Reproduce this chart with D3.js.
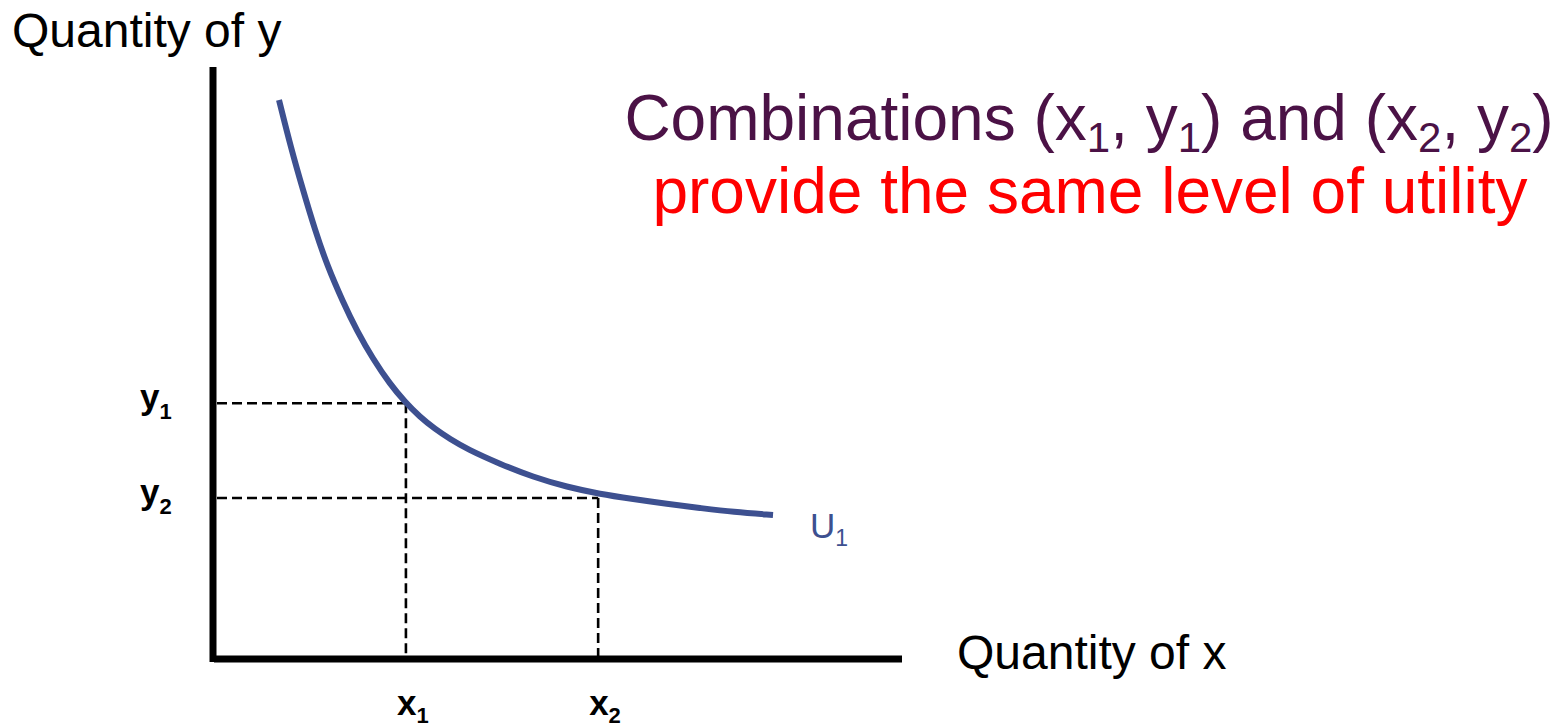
<!DOCTYPE html>
<html>
<head>
<meta charset="utf-8">
<script src="https://cdn.jsdelivr.net/npm/d3@7"></script>
<style>
  html, body { margin: 0; padding: 0; background: #fff; }
  svg { display: block; font-family: "Liberation Sans", Arial, sans-serif; }
</style>
</head>
<body>
<svg id="chart" width="1562" height="725"></svg>
<script>
// Indifference curve U1 (quantity of x, quantity of y)
const curveX = [9.58, 11.32, 13.06, 14.80, 16.55, 18.87, 20.90, 23.22, 25.69, 27.87, 30.04, 32.22, 34.40, 36.86, 41.65, 46.44, 51.38, 56.17, 60.96, 65.89, 70.68, 75.47, 81.28];
const curveY = [94.43, 86.32, 79.22, 72.47, 66.55, 60.30, 55.41, 50.68, 46.45, 43.41, 40.88, 38.85, 37.16, 35.47, 32.94, 30.74, 29.05, 27.87, 27.03, 26.18, 25.51, 24.83, 24.32];

// The two bundles on the curve
const bundleX = [28.0, 55.9];
const bundleY = [43.2, 27.2];
const bundleXLabels = ["x", "x"];
const bundleYLabels = ["y", "y"];
const bundleSubs = ["1", "2"];

const axisMax = 100;

const svg = d3.select("#chart");

const x = d3.scaleLinear().domain([0, axisMax]).range([213, 902]);
const y = d3.scaleLinear().domain([0, axisMax]).range([659, 67]);

// Dashed guide lines from each bundle to both axes
const guides = svg.append("g")
  .attr("fill", "none")
  .attr("stroke", "#000")
  .attr("stroke-width", 2.6)
  .attr("stroke-dasharray", "10,5");

bundleX.forEach((bx, i) => {
  const by = bundleY[i];
  guides.append("line")
    .attr("x1", x(0) + 4).attr("y1", y(by))
    .attr("x2", x(bx)).attr("y2", y(by));
  guides.append("line")
    .attr("x1", x(bx)).attr("y1", y(by))
    .attr("x2", x(bx)).attr("y2", y(0) - 3);
});

// Axes
svg.append("line")
  .attr("x1", x(0)).attr("y1", y(axisMax))
  .attr("x2", x(0)).attr("y2", y(0) + 3)
  .attr("stroke", "#000").attr("stroke-width", 7);
svg.append("line")
  .attr("x1", x(0) + 1).attr("y1", y(0))
  .attr("x2", x(axisMax)).attr("y2", y(0))
  .attr("stroke", "#000").attr("stroke-width", 7);

// Indifference curve
const pts = curveX.map((v, i) => [v, curveY[i]]);
const line = d3.line()
  .x(d => x(d[0]))
  .y(d => y(d[1]))
  .curve(d3.curveBasis);

svg.append("path")
  .datum(pts)
  .attr("d", line)
  .attr("fill", "none")
  .attr("stroke", "#3d5090")
  .attr("stroke-width", 6);

// Curve label U1
const last = pts[pts.length - 1];
const uLab = svg.append("text")
  .attr("x", x(last[0]) + 37)
  .attr("y", y(last[1]) + 23)
  .attr("fill", "#3d5090")
  .attr("font-size", 35);
uLab.append("tspan").text("U");
uLab.append("tspan").attr("font-size", 23).attr("dy", 8).text("1");

// Bundle labels on the axes
bundleY.forEach((by, i) => {
  const t = svg.append("text")
    .attr("x", 140)
    .attr("y", y(by) + 6)
    .attr("font-weight", "bold")
    .attr("font-size", 35);
  t.append("tspan").text(bundleYLabels[i]);
  t.append("tspan").attr("font-size", 22).attr("dy", 10).text(bundleSubs[i]);
});

bundleX.forEach((bx, i) => {
  const t = svg.append("text")
    .attr("x", x(bx) - 9)
    .attr("y", 715)
    .attr("font-weight", "bold")
    .attr("font-size", 35);
  t.append("tspan").text(bundleXLabels[i]);
  t.append("tspan").attr("font-size", 22).attr("dy", 8).text(bundleSubs[i]);
});

// Axis titles
svg.append("text")
  .attr("x", 12).attr("y", 47)
  .attr("font-size", 48)
  .attr("fill", "#000")
  .text("Quantity of y");

svg.append("text")
  .attr("x", 957).attr("y", 669)
  .attr("font-size", 48)
  .attr("fill", "#000")
  .text("Quantity of x");

// Headline
const head1 = svg.append("text")
  .attr("x", 1089).attr("y", 140)
  .attr("text-anchor", "middle")
  .attr("font-size", 64)
  .attr("fill", "#4b1246");
[["Combinations (x", 0], ["1", 1], [", y", 0], ["1", 1], [") and (x", 0], ["2", 1], [", y", 0], ["2", 1], [")", 0]]
  .forEach(([s, sub], i, arr) => {
    const prevSub = i > 0 ? arr[i - 1][1] : 0;
    const dy = sub && !prevSub ? 12 : (!sub && prevSub ? -12 : 0);
    head1.append("tspan")
      .attr("font-size", sub ? 42 : 64)
      .attr("dy", dy)
      .text(s);
  });

svg.append("text")
  .attr("x", 1090).attr("y", 213)
  .attr("text-anchor", "middle")
  .attr("font-size", 64)
  .attr("fill", "#ff0000")
  .text("provide the same level of utility");
</script>
</body>
</html>
